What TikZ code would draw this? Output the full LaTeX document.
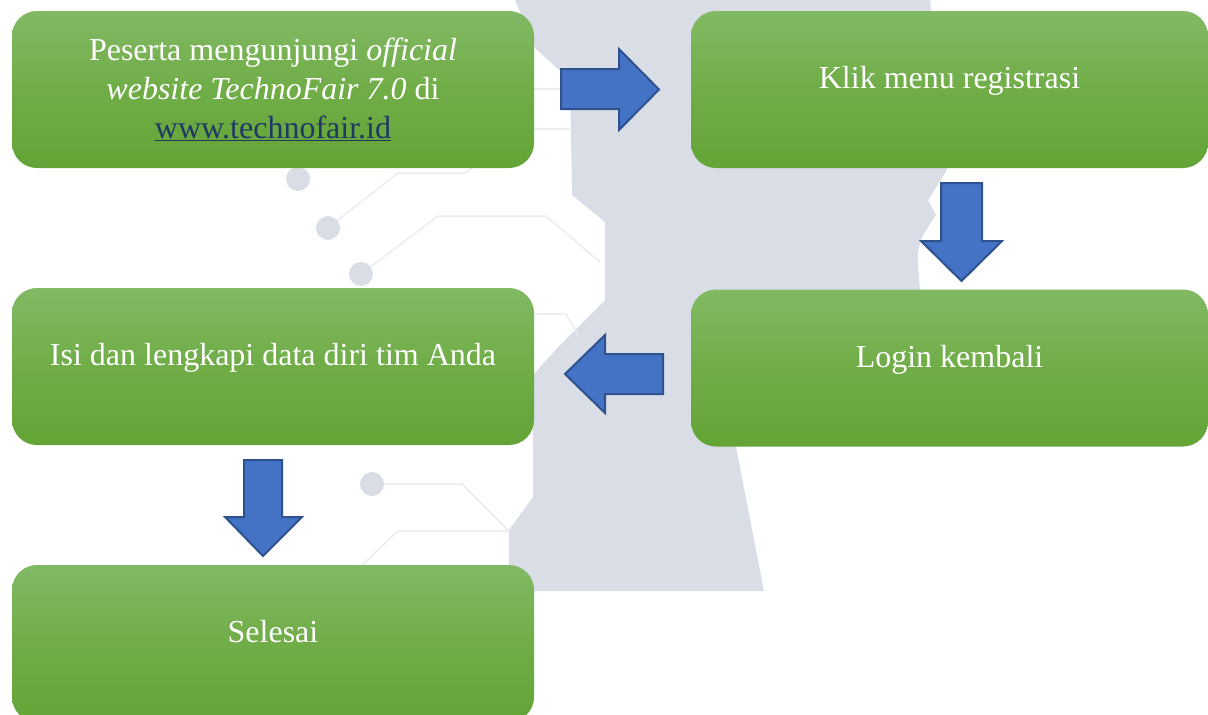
\documentclass[tikz,border=0pt]{standalone}
\usepackage{fontspec}
\setmainfont{Liberation Serif}

\definecolor{backgray}{HTML}{D9DDE6}
\definecolor{faintline}{HTML}{EBECEF}
\definecolor{greentop}{HTML}{82B964}
\definecolor{greenmid}{HTML}{70AD47}
\definecolor{greenbottom}{HTML}{62A436}
\definecolor{arrowblue}{HTML}{4472C4}
\definecolor{arrowedge}{HTML}{2F528F}
\definecolor{linkblue}{HTML}{1F3864}

\begin{document}
\begin{tikzpicture}[x=1pt, y=-1pt,
	stepbox/.style={rectangle, rounded corners=25pt, top color=greentop, bottom color=greenbottom, middle color=greenmid, minimum width=522pt, minimum height=157pt, text=white, align=center, font=\fontsize{32}{39}\selectfont},
	oneline/.style={text height=21pt, text depth=23pt},
	blockarrow/.style={fill=arrowblue, draw=arrowedge, line width=2pt},
	trace/.style={draw=faintline, line width=1.5pt},
	dot/.style={circle, fill=backgray, minimum size=24pt, inner sep=0pt}]

\useasboundingbox (0, 0) rectangle (1208, 715);
\clip (0, 0) rectangle (1208, 715);

% background
\fill [backgray] (515, 0) -- (535, 48) -- (570, 80) -- (572, 195) -- (605, 222) -- (605, 300) -- (560, 345) -- (533, 375) -- (533, 497) -- (509, 530) -- (509, 591) -- (764, 591) -- (736, 447) -- (920, 290) .. controls (916, 245) .. (936, 215) -- (928, 200) -- (947, 170) -- (930, 0) -- cycle;

\node(d1) [dot] at (298, 179) {};
\node(d2) [dot] at (328, 228) {};
\node(d3) [dot] at (361, 274) {};
\node(d4) [dot] at (372, 484) {};

\draw [trace] (d2) -- (398, 173) -- (465, 173) -- (472, 168);
\draw [trace] (d3) -- (438, 216) -- (546, 216) -- (600, 262);
\draw [trace] (d4) -- (462, 484) -- (509, 531) -- (398, 531) -- (362, 565);
\draw [trace] (534, 89) -- (570, 89);
\draw [trace] (534, 129) -- (570, 129);
\draw [trace] (534, 314) -- (566, 314) -- (578, 335);

% steps
\node(1) [stepbox] at (273, 89.5) {
	Peserta mengunjungi \textit{official}\\
	\textit{website TechnoFair 7.0} di\\
	\textcolor{linkblue}{\underline{www.technofair.id}}
};
\node(2) [stepbox, oneline, minimum width=517pt] at (949.5, 89.5) {Klik menu registrasi};
\node(3) [stepbox, oneline, minimum width=517pt] at (949.5, 368) {Login kembali};
\node(4) [stepbox, oneline] at (273, 366.5) {Isi dan lengkapi data diri tim Anda};
\node(5) [stepbox, oneline] at (273, 643.5) {Selesai};

% block arrows
\draw [blockarrow] (561, 69) -- (619, 69) -- (619, 49) -- (659, 89.5) -- (619, 130) -- (619, 109) -- (561, 109) -- cycle;
\draw [blockarrow] (941, 183) -- (982, 183) -- (982, 241) -- (1002, 241) -- (961.5, 281) -- (921, 241) -- (941, 241) -- cycle;
\draw [blockarrow] (663, 354) -- (605, 354) -- (605, 335) -- (565, 374) -- (605, 413) -- (605, 394) -- (663, 394) -- cycle;
\draw [blockarrow] (244, 460) -- (282, 460) -- (282, 517) -- (302, 517) -- (263, 556) -- (225, 517) -- (244, 517) -- cycle;

\end{tikzpicture}
\end{document}
